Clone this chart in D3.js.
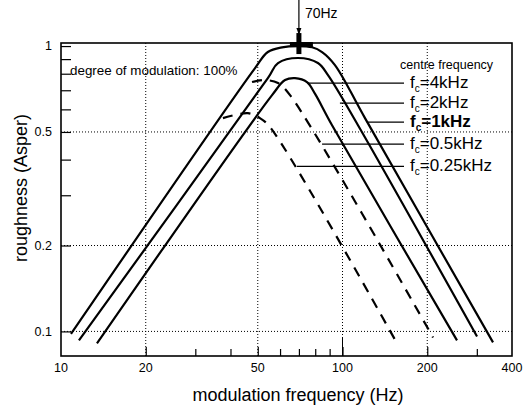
<!DOCTYPE html>
<html>
<head>
<meta charset="utf-8">
<script src="https://cdn.jsdelivr.net/npm/d3@7"></script>
<style>
  body { margin: 0; background: #fff; }
  svg { display: block; font-family: "Liberation Sans", Arial, sans-serif; }
</style>
</head>
<body>
<div id="chart-container"></div>
<script>
// modulation frequency (Hz), roughness (asper) pairs
const fc4k   = [[10.85, 0.098], [48.9, 0.837], [54.3, 0.953], [61, 0.99], [69.5, 1.0], [78, 0.99], [84.6, 0.953], [94, 0.858], [120.2, 0.559], [342.5, 0.0915]];
const fc2k   = [[11.58, 0.093], [54.3, 0.772], [59, 0.872], [69.5, 0.908], [81.8, 0.872], [88.8, 0.791], [113.5, 0.528], [300.5, 0.096]];
const fc1k   = [[13.42, 0.0908], [56.2, 0.673], [62.5, 0.76], [67.8, 0.772], [74.8, 0.748], [79.9, 0.68], [91.8, 0.528], [255.1, 0.093]];
const fc05k  = [[47.7, 0.748], [53, 0.76], [59, 0.742], [65.1, 0.673], [209.7, 0.0952]];
const fc025k = [[37.6, 0.559], [46.1, 0.582], [50.9, 0.559], [55.3, 0.52], [156.2, 0.0908]];

const seriesLabels = ["4kHz", "2kHz", "1kHz", "0.5kHz", "0.25kHz"];
const seriesDashed = [false, false, false, true, true];
const leaderRough  = [0.742, 0.631, 0.541, 0.453, 0.379];
const leaderFreq   = [74.8, 97.9, 122, 84.6, 68.9];

const freqTicks  = [10, 20, 50, 100, 200, 400];
const freqMinor  = [30, 40, 60, 70, 80, 90, 300];
const freqGrid   = [20, 50, 100, 200];
const roughTicks = [0.1, 0.2, 0.5, 1];
const roughMinor = [0.3, 0.4, 0.6, 0.7, 0.8, 0.9];
const roughGrid  = [0.1, 0.2, 0.5];
const peakFreq = 70;

const width = 525;
const height = 412;
const marginTop = 43;
const marginRight = 13;
const marginBottom = 56;
const marginLeft = 61;

const x = d3.scaleLog()
    .domain([10, 400])
    .range([marginLeft, width - marginRight]);

const y = d3.scaleLog()
    .domain([0.082, 1.025])
    .range([height - marginBottom, marginTop]);

const svg = d3.select("#chart-container").append("svg")
    .attr("width", width)
    .attr("height", height)
    .attr("viewBox", [0, 0, width, height]);

svg.append("rect")
    .attr("width", width)
    .attr("height", height)
    .attr("fill", "#fff");

// dotted grid
svg.append("g")
    .selectAll("line")
    .data(roughGrid)
    .join("line")
    .attr("x1", marginLeft)
    .attr("x2", width - marginRight)
    .attr("y1", d => y(d))
    .attr("y2", d => y(d))
    .attr("stroke", "#000")
    .attr("stroke-width", 1)
    .attr("stroke-dasharray", "1,2");

svg.append("g")
    .selectAll("line")
    .data(freqGrid)
    .join("line")
    .attr("x1", d => x(d))
    .attr("x2", d => x(d))
    .attr("y1", marginTop)
    .attr("y2", height - marginBottom)
    .attr("stroke", "#000")
    .attr("stroke-width", 1)
    .attr("stroke-dasharray", "1,2");

// axes: ticks point inwards, labels drawn separately
const bottom = height - marginBottom;

svg.append("g")
    .attr("transform", `translate(0,${bottom})`)
    .call(d3.axisBottom(x).tickValues(freqTicks.slice(1, -1)).tickSize(-9).tickFormat(""))
    .call(g => g.select(".domain").remove());

svg.append("g")
    .attr("transform", `translate(0,${bottom})`)
    .call(d3.axisBottom(x).tickValues(freqMinor).tickSize(-7).tickFormat(""))
    .call(g => g.select(".domain").remove());

svg.append("line")
    .attr("x1", x(100)).attr("x2", x(100))
    .attr("y1", bottom).attr("y2", bottom - 19)
    .attr("stroke", "#000");

svg.append("g")
    .attr("transform", `translate(${marginLeft},0)`)
    .call(d3.axisLeft(y).tickValues(roughTicks.concat(roughMinor)).tickSize(-10).tickFormat(""))
    .call(g => g.select(".domain").remove());

svg.selectAll(".tick line").attr("stroke-width", 1.2);

svg.append("g")
    .selectAll("text")
    .data(freqTicks)
    .join("text")
    .attr("x", d => x(d))
    .attr("y", 372)
    .attr("text-anchor", "middle")
    .attr("font-size", 12.5)
    .text(d => d);

svg.append("g")
    .selectAll("text")
    .data(roughTicks)
    .join("text")
    .attr("x", 52)
    .attr("y", d => y(d))
    .attr("dy", "0.35em")
    .attr("text-anchor", "end")
    .attr("font-size", 12.5)
    .text(d => d);

svg.append("rect")
    .attr("x", marginLeft)
    .attr("y", marginTop)
    .attr("width", width - marginLeft - marginRight)
    .attr("height", height - marginTop - marginBottom)
    .attr("fill", "none")
    .attr("stroke", "#000")
    .attr("stroke-width", 1.6);

svg.append("text")
    .attr("x", 298)
    .attr("y", 401)
    .attr("text-anchor", "middle")
    .attr("font-size", 18)
    .text("modulation frequency (Hz)");

svg.append("text")
    .attr("transform", "translate(27,188) rotate(-90)")
    .attr("text-anchor", "middle")
    .attr("font-size", 18)
    .text("roughness (Asper)");

// curves
const line = d3.line()
    .curve(d3.curveCatmullRom.alpha(0.5))
    .x(d => x(d[0]))
    .y(d => y(d[1]));

const series = [fc4k, fc2k, fc1k, fc05k, fc025k];

svg.append("g")
    .selectAll("path")
    .data(series)
    .join("path")
    .attr("fill", "none")
    .attr("stroke", "#000")
    .attr("stroke-width", 2.2)
    .attr("stroke-dasharray", (d, i) => seriesDashed[i] ? "10,8" : null)
    .attr("d", line);

// legend with leader lines
const labelX = 410;
const leaderEnd = 404;

svg.append("g")
    .selectAll("line")
    .data(seriesLabels)
    .join("line")
    .attr("x1", (d, i) => x(leaderFreq[i]))
    .attr("x2", leaderEnd)
    .attr("y1", (d, i) => y(leaderRough[i]))
    .attr("y2", (d, i) => y(leaderRough[i]))
    .attr("stroke", "#000")
    .attr("stroke-width", 1.3);

const labels = svg.append("g")
    .selectAll("text")
    .data(seriesLabels)
    .join("text")
    .attr("x", labelX)
    .attr("y", (d, i) => y(leaderRough[i]) + 5)
    .attr("font-size", 17)
    .attr("font-weight", d => d === "1kHz" ? "bold" : null);

labels.append("tspan").text("f");
labels.append("tspan").attr("font-size", 10).attr("dy", 4).text("c");
labels.append("tspan").attr("dy", -4).text(d => "=" + d);

svg.append("text")
    .attr("x", 400)
    .attr("y", 69)
    .attr("font-size", 12.5)
    .text("centre frequency");

svg.append("text")
    .attr("x", 70)
    .attr("y", 75)
    .attr("font-size", 13.4)
    .text("degree of modulation: 100%");

// 70 Hz marker
const px = x(peakFreq);
const py = y(1);

svg.append("line")
    .attr("x1", px).attr("x2", px)
    .attr("y1", 0).attr("y2", 34)
    .attr("stroke", "#000")
    .attr("stroke-width", 1.2);

svg.append("path")
    .attr("d", `M${px - 2.5},${py - 18}L${px + 2.5},${py - 18}L${px},${py - 11}Z`)
    .attr("fill", "#000");

svg.append("rect")
    .attr("x", px - 2.5).attr("y", py - 13)
    .attr("width", 5).attr("height", 21)
    .attr("fill", "#000");

svg.append("rect")
    .attr("x", px - 9).attr("y", py - 4)
    .attr("width", 23).attr("height", 5)
    .attr("fill", "#000");

svg.append("text")
    .attr("x", px + 6)
    .attr("y", 18)
    .attr("font-size", 14)
    .text(peakFreq + "Hz");
</script>
</body>
</html>
